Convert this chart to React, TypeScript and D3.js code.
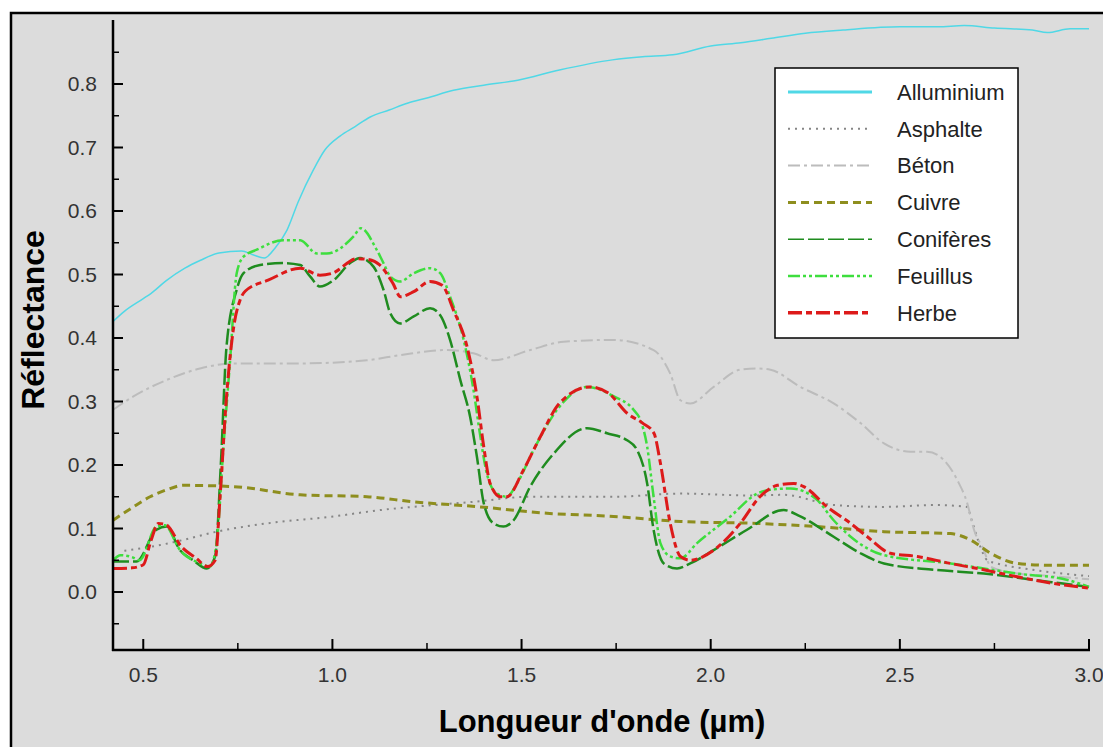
import { scaleLinear, line as d3line, curveMonotoneX, range } from "d3";

type Pt = [number, number];

const seriesNames = ["Alluminium", "Asphalte", "Béton", "Cuivre", "Conifères", "Feuillus", "Herbe"];

const alluminium: Pt[] = [
  [0.42, 0.426], [0.45, 0.442], [0.5, 0.462], [0.52, 0.47], [0.56, 0.49], [0.61, 0.51], [0.65, 0.522],
  [0.7, 0.534], [0.76, 0.537], [0.79, 0.531], [0.82, 0.526], [0.85, 0.543], [0.88, 0.57], [0.91, 0.615],
  [0.95, 0.665], [0.98, 0.696], [1.02, 0.718], [1.06, 0.733], [1.1, 0.748], [1.15, 0.759], [1.2, 0.77],
  [1.25, 0.778], [1.32, 0.79], [1.4, 0.798], [1.49, 0.806], [1.6, 0.822], [1.74, 0.838], [1.82, 0.843],
  [1.9, 0.846], [2.0, 0.86], [2.08, 0.865], [2.16, 0.872], [2.25, 0.88], [2.35, 0.885], [2.5, 0.89],
  [2.6, 0.89], [2.67, 0.892], [2.75, 0.888], [2.85, 0.885], [2.89, 0.881], [2.95, 0.887], [3.0, 0.887],
];

const asphalte: Pt[] = [
  [0.45, 0.065], [0.518, 0.071], [0.606, 0.082], [0.694, 0.095], [0.826, 0.108], [1.003, 0.119],
  [1.126, 0.129], [1.25, 0.136], [1.373, 0.142], [1.523, 0.15], [1.743, 0.15], [1.92, 0.155],
  [2.105, 0.152], [2.193, 0.153], [2.325, 0.137], [2.458, 0.134], [2.59, 0.137], [2.678, 0.134],
  [2.69, 0.113], [2.713, 0.071], [2.731, 0.05], [2.757, 0.045], [2.85, 0.035], [3.0, 0.025],
];

const beton: Pt[] = [
  [0.42, 0.287], [0.474, 0.308], [0.562, 0.334], [0.65, 0.352], [0.738, 0.36], [0.915, 0.36],
  [1.091, 0.365], [1.179, 0.373], [1.302, 0.381], [1.373, 0.376], [1.426, 0.365], [1.523, 0.381],
  [1.611, 0.394], [1.743, 0.397], [1.849, 0.381], [1.893, 0.344], [1.92, 0.302], [1.946, 0.297],
  [2.008, 0.323], [2.078, 0.35], [2.123, 0.352], [2.158, 0.35], [2.237, 0.323], [2.325, 0.297],
  [2.396, 0.266], [2.458, 0.234], [2.528, 0.221], [2.572, 0.221], [2.616, 0.208], [2.652, 0.176],
  [2.678, 0.14], [2.696, 0.098], [2.722, 0.066], [2.74, 0.04], [2.8, 0.03], [2.9, 0.025], [3.0, 0.02],
];

const cuivre: Pt[] = [
  [0.42, 0.113], [0.474, 0.134], [0.518, 0.15], [0.562, 0.161], [0.606, 0.168], [0.738, 0.166],
  [0.915, 0.153], [1.091, 0.15], [1.215, 0.142], [1.391, 0.134], [1.567, 0.124], [1.743, 0.119],
  [1.92, 0.111], [2.123, 0.108], [2.281, 0.103], [2.458, 0.095], [2.634, 0.092], [2.687, 0.082],
  [2.74, 0.061], [2.811, 0.045], [2.9, 0.042], [3.0, 0.042],
];

const coniferes: Pt[] = [
  [0.42, 0.048], [0.482, 0.048], [0.535, 0.098], [0.562, 0.103], [0.597, 0.066], [0.632, 0.05],
  [0.668, 0.037], [0.69, 0.056], [0.705, 0.2], [0.72, 0.386], [0.747, 0.476], [0.765, 0.502],
  [0.809, 0.515], [0.87, 0.518], [0.915, 0.515], [0.941, 0.497], [0.967, 0.481], [1.003, 0.491],
  [1.047, 0.518], [1.073, 0.526], [1.109, 0.512], [1.135, 0.476], [1.153, 0.439], [1.179, 0.423],
  [1.215, 0.434], [1.258, 0.447], [1.285, 0.436], [1.311, 0.397], [1.338, 0.334], [1.364, 0.276],
  [1.382, 0.213], [1.4, 0.14], [1.426, 0.108], [1.452, 0.103], [1.479, 0.113], [1.523, 0.166],
  [1.585, 0.218], [1.673, 0.258], [1.726, 0.25], [1.779, 0.239], [1.805, 0.224], [1.832, 0.171],
  [1.849, 0.098], [1.876, 0.045], [1.911, 0.037], [1.946, 0.045], [2.008, 0.066], [2.096, 0.098],
  [2.193, 0.129], [2.237, 0.119], [2.325, 0.087], [2.396, 0.061], [2.458, 0.045], [2.59, 0.035],
  [2.722, 0.029], [2.855, 0.019], [3.0, 0.008],
];

const feuillus: Pt[] = [
  [0.42, 0.05], [0.44, 0.058], [0.47, 0.055], [0.49, 0.05], [0.535, 0.103], [0.557, 0.105],
  [0.597, 0.066], [0.65, 0.045], [0.676, 0.04], [0.694, 0.077], [0.712, 0.229], [0.729, 0.36],
  [0.747, 0.502], [0.765, 0.528], [0.8, 0.539], [0.87, 0.554], [0.915, 0.554], [0.959, 0.533],
  [0.985, 0.533], [1.056, 0.56], [1.075, 0.573], [1.117, 0.539], [1.135, 0.518], [1.153, 0.497],
  [1.179, 0.489], [1.215, 0.502], [1.258, 0.51], [1.285, 0.502], [1.311, 0.465], [1.347, 0.397],
  [1.373, 0.318], [1.391, 0.245], [1.408, 0.187], [1.435, 0.155], [1.461, 0.15], [1.488, 0.171],
  [1.532, 0.224], [1.594, 0.287], [1.673, 0.323], [1.744, 0.308], [1.796, 0.287], [1.814, 0.271],
  [1.832, 0.229], [1.849, 0.15], [1.867, 0.077], [1.893, 0.056], [1.92, 0.053], [1.964, 0.077],
  [2.052, 0.119], [2.123, 0.155], [2.158, 0.161], [2.211, 0.163], [2.281, 0.145], [2.325, 0.113],
  [2.37, 0.087], [2.458, 0.058], [2.634, 0.045], [2.811, 0.029], [2.943, 0.019], [3.0, 0.008],
];

const herbe: Pt[] = [
  [0.42, 0.037], [0.47, 0.038], [0.5, 0.043], [0.52, 0.08], [0.54, 0.108], [0.56, 0.106],
  [0.6, 0.072], [0.64, 0.053], [0.67, 0.04], [0.69, 0.05], [0.703, 0.15], [0.72, 0.307],
  [0.738, 0.413], [0.756, 0.46], [0.77, 0.474], [0.83, 0.491], [0.915, 0.51], [0.967, 0.499],
  [1.0, 0.502], [1.065, 0.525], [1.09, 0.524], [1.125, 0.515], [1.16, 0.486], [1.18, 0.465],
  [1.215, 0.473], [1.258, 0.489], [1.29, 0.483], [1.32, 0.444], [1.356, 0.386], [1.382, 0.308],
  [1.4, 0.229], [1.417, 0.171], [1.444, 0.15], [1.461, 0.15], [1.505, 0.192], [1.55, 0.245],
  [1.6, 0.297], [1.68, 0.323], [1.73, 0.313], [1.78, 0.281], [1.82, 0.266], [1.85, 0.25],
  [1.867, 0.203], [1.893, 0.108], [1.92, 0.056], [1.946, 0.05], [2.008, 0.066], [2.078, 0.108],
  [2.13, 0.15], [2.176, 0.168], [2.22, 0.171], [2.246, 0.166], [2.308, 0.134], [2.37, 0.108],
  [2.414, 0.087], [2.475, 0.061], [2.546, 0.056], [2.634, 0.045], [2.722, 0.035], [2.81, 0.024],
  [2.9, 0.014], [3.0, 0.006],
];

const xTicks = [0.5, 1.0, 1.5, 2.0, 2.5, 3.0];
const yTicks = [0.0, 0.1, 0.2, 0.3, 0.4, 0.5, 0.6, 0.7, 0.8];

const STYLES = [
  { color: "#50d8e6", width: 1.5, dash: "", legendWidth: 3 },
  { color: "#868686", width: 2, dash: "2,5", legendWidth: 2 },
  { color: "#bcbcbc", width: 2, dash: "12,4,3,4", legendWidth: 2 },
  { color: "#8e8e1e", width: 3, dash: "8,5", legendWidth: 3 },
  { color: "#1f8c1f", width: 2.5, dash: "16,4", legendWidth: 1.5 },
  { color: "#3ede3e", width: 2.5, dash: "12,3,3,3,3,3", legendWidth: 2.5 },
  { color: "#dd1a1a", width: 3, dash: "14,4,6,4", legendWidth: 3.5 },
];

const FONT = "'Liberation Sans', Arial, sans-serif";
const W = 1103;
const H = 747;

export default function App() {
  const data = [alluminium, asphalte, beton, cuivre, coniferes, feuillus, herbe];

  const x = scaleLinear().domain([0.42, 3.0]).range([113, 1089]);
  const y = scaleLinear().domain([0, 0.8]).range([592, 84]);
  const yTop = 20;
  const xAxisY = 650;

  const gen = d3line<Pt>()
    .x((d) => x(d[0]))
    .y((d) => y(d[1]))
    .curve(curveMonotoneX);

  const xMinor = range(0.75, 3.0, 0.5);
  const yMinor = range(-0.05, 0.9, 0.1);

  const legendX = 775;
  const legendY = 68;
  const rowH = 36.8;

  return (
    <svg width={W} height={H} style={{ position: "absolute", left: 0, top: 0 }} fontFamily={FONT}>
      <rect x={0} y={0} width={W} height={H} fill="#ffffff" />
      <rect x={11} y={13} width={W + 20} height={H + 20} fill="#dcdcdc" stroke="#000" strokeWidth={2.5} />

      {data.map((pts, i) => (
        <path
          key={seriesNames[i]}
          d={gen(pts) ?? ""}
          fill="none"
          stroke={STYLES[i].color}
          strokeWidth={STYLES[i].width}
          strokeDasharray={STYLES[i].dash || undefined}
          strokeLinejoin="round"
        />
      ))}

      {/* axes */}
      <line x1={113} x2={113} y1={yTop} y2={xAxisY + 1} stroke="#000" strokeWidth={2.5} />
      <line x1={112} x2={x(3.0) + 1} y1={xAxisY} y2={xAxisY} stroke="#000" strokeWidth={2.5} />

      {yTicks.map((t) => (
        <g key={t}>
          <line x1={113} x2={123} y1={y(t)} y2={y(t)} stroke="#000" strokeWidth={2} />
          <text x={97} y={y(t)} dy="0.35em" textAnchor="end" fontSize={21} fill="#333">
            {t.toFixed(1)}
          </text>
        </g>
      ))}
      {yMinor.map((t) => (
        <line key={t} x1={113} x2={119} y1={y(t)} y2={y(t)} stroke="#000" strokeWidth={1.5} />
      ))}

      {xTicks.map((t) => (
        <g key={t}>
          <line x1={x(t)} x2={x(t)} y1={xAxisY} y2={xAxisY - 11} stroke="#000" strokeWidth={2} />
          <text x={x(t)} y={682} textAnchor="middle" fontSize={21} fill="#333">
            {t.toFixed(1)}
          </text>
        </g>
      ))}
      {xMinor.map((t) => (
        <line key={t} x1={x(t)} x2={x(t)} y1={xAxisY} y2={xAxisY - 7} stroke="#000" strokeWidth={1.5} />
      ))}

      <text x={602} y={732} textAnchor="middle" fontSize={31} fontWeight="bold" fill="#000">
        Longueur d'onde (µm)
      </text>
      <text
        transform="translate(44,320) rotate(-90)"
        textAnchor="middle"
        fontSize={32}
        fontWeight="bold"
        fill="#000"
      >
        Réflectance
      </text>

      {/* legend */}
      <rect x={legendX} y={legendY} width={243} height={270} fill="#fff" stroke="#000" strokeWidth={1.5} />
      {seriesNames.map((name, i) => {
        const cy = legendY + 24 + i * rowH;
        return (
          <g key={name}>
            <line
              x1={788}
              x2={872}
              y1={cy}
              y2={cy}
              stroke={STYLES[i].color}
              strokeWidth={STYLES[i].legendWidth}
              strokeDasharray={STYLES[i].dash || undefined}
            />
            <text x={897} y={cy} dy="0.35em" fontSize={22} fill="#222">
              {name}
            </text>
          </g>
        );
      })}
    </svg>
  );
}
